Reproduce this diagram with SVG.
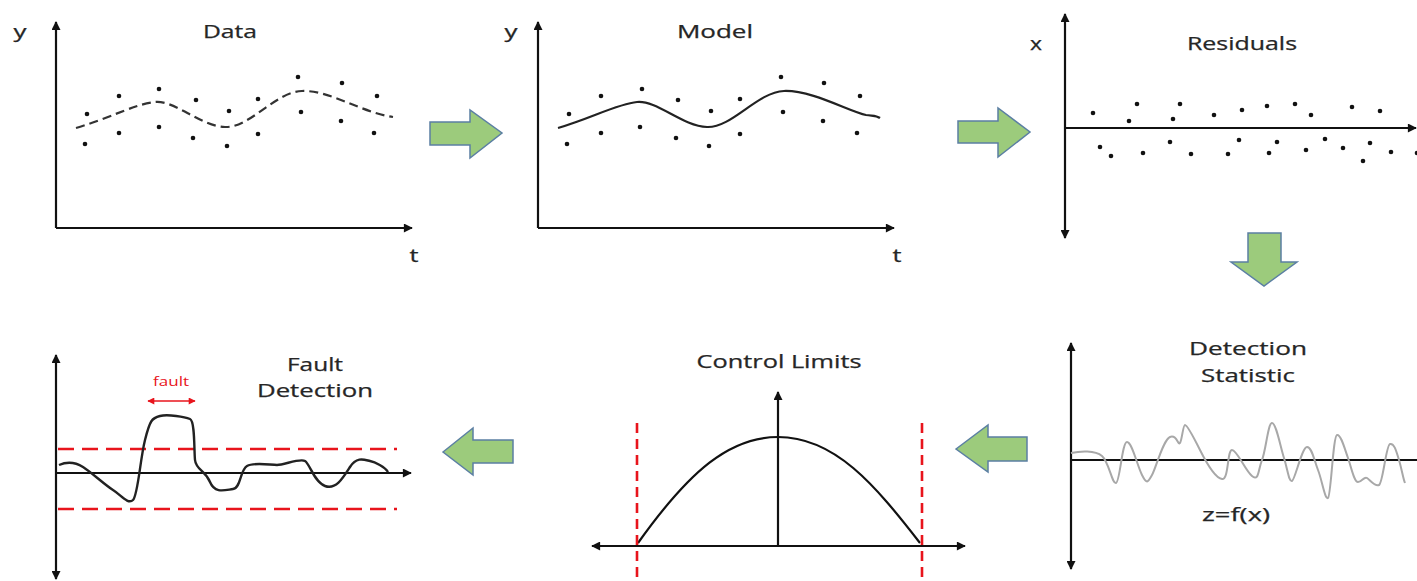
<svg xmlns="http://www.w3.org/2000/svg" width="1417" height="581" viewBox="0 0 1417 581">
<style>
.ttl{font-family:"Open Sans","Noto Sans",sans-serif;font-size:18px;fill:#262626;text-anchor:middle;stroke:#262626;stroke-width:0.25}
.lbl{font-family:"Open Sans","Noto Sans",sans-serif;font-size:18px;fill:#262626;text-anchor:middle;stroke:#262626;stroke-width:0.25}
.ax{stroke:#111;stroke-width:2.2;fill:none}
.dot{fill:#111}
.blk{fill:#9ccb7c;stroke:#5b7fa3;stroke-width:1.5;stroke-linejoin:miter}
.rdash{stroke:#e8141c;stroke-width:2.6;fill:none}
</style>
<defs>
<marker id="ah" viewBox="0 0 10 10" refX="9" refY="5" markerWidth="10" markerHeight="9" markerUnits="userSpaceOnUse" orient="auto-start-reverse">
<path d="M0,0 L10,5 L0,10 z" fill="#111"/>
</marker>
<marker id="rah" viewBox="0 0 10 10" refX="9" refY="5" markerWidth="8" markerHeight="7" markerUnits="userSpaceOnUse" orient="auto-start-reverse">
<path d="M0,0 L10,5 L0,10 z" fill="#e8141c"/>
</marker>
</defs>
<rect width="1417" height="581" fill="#fff"/>

<g id="panel-data">
<line class="ax" x1="56" y1="228" x2="56" y2="22" marker-end="url(#ah)"/>
<line class="ax" x1="56" y1="228" x2="412" y2="228" marker-end="url(#ah)"/>
<text class="lbl" x="20" y="38" textLength="13" lengthAdjust="spacingAndGlyphs">y</text>
<text class="lbl" x="414" y="262" textLength="9" lengthAdjust="spacingAndGlyphs">t</text>
<text class="ttl" x="230" y="38" textLength="54" lengthAdjust="spacingAndGlyphs">Data</text>
<path d="M76,128 C110,118 135,104 155,102 C175,100 200,126 225,127 C250,128 275,92 302,91 C330,90 360,112 393,117" stroke="#333" stroke-width="2.2" fill="none" stroke-dasharray="9 5"/>
<g class="dot">
<circle cx="87" cy="114" r="2.3"/><circle cx="85" cy="144" r="2.3"/>
<circle cx="119" cy="96" r="2.3"/><circle cx="119" cy="133" r="2.3"/>
<circle cx="159" cy="89" r="2.3"/><circle cx="159" cy="127" r="2.3"/>
<circle cx="196" cy="100" r="2.3"/><circle cx="193" cy="138" r="2.3"/>
<circle cx="229" cy="111" r="2.3"/><circle cx="227" cy="146" r="2.3"/>
<circle cx="258" cy="99" r="2.3"/><circle cx="258" cy="134" r="2.3"/>
<circle cx="298" cy="77" r="2.3"/><circle cx="301" cy="112" r="2.3"/>
<circle cx="342" cy="83" r="2.3"/><circle cx="341" cy="121" r="2.3"/>
<circle cx="377" cy="96" r="2.3"/><circle cx="374" cy="133" r="2.3"/>
</g>
</g>

<g id="panel-model">
<line class="ax" x1="538" y1="228" x2="538" y2="22" marker-end="url(#ah)"/>
<line class="ax" x1="538" y1="228" x2="894" y2="228" marker-end="url(#ah)"/>
<text class="lbl" x="511" y="38" textLength="13" lengthAdjust="spacingAndGlyphs">y</text>
<text class="lbl" x="897" y="262" textLength="9" lengthAdjust="spacingAndGlyphs">t</text>
<text class="ttl" x="715" y="38" textLength="76" lengthAdjust="spacingAndGlyphs">Model</text>
<path d="M558,128 C592,118 617,104 637,102 C657,100 682,126 707,127 C732,128 757,92 784,91 C812,90 850,112 866,115 C873,116 876,115 880,118" stroke="#222" stroke-width="2.2" fill="none"/>
<g class="dot">
<circle cx="569" cy="114" r="2.3"/><circle cx="567" cy="144" r="2.3"/>
<circle cx="601" cy="96" r="2.3"/><circle cx="601" cy="133" r="2.3"/>
<circle cx="642" cy="89" r="2.3"/><circle cx="640" cy="127" r="2.3"/>
<circle cx="678" cy="100" r="2.3"/><circle cx="676" cy="138" r="2.3"/>
<circle cx="711" cy="111" r="2.3"/><circle cx="709" cy="146" r="2.3"/>
<circle cx="740" cy="99" r="2.3"/><circle cx="740" cy="134" r="2.3"/>
<circle cx="781" cy="77" r="2.3"/><circle cx="783" cy="112" r="2.3"/>
<circle cx="824" cy="83" r="2.3"/><circle cx="823" cy="121" r="2.3"/>
<circle cx="860" cy="96" r="2.3"/><circle cx="857" cy="133" r="2.3"/>
</g>
</g>

<g id="panel-residuals">
<line class="ax" x1="1065" y1="14" x2="1065" y2="238" marker-start="url(#ah)" marker-end="url(#ah)"/>
<line class="ax" x1="1065" y1="128" x2="1416" y2="128" marker-end="url(#ah)"/>
<text class="lbl" x="1036" y="50" textLength="12" lengthAdjust="spacingAndGlyphs">x</text>
<text class="ttl" x="1242" y="50" textLength="110" lengthAdjust="spacingAndGlyphs">Residuals</text>
<g class="dot">
<circle cx="1093" cy="113" r="2.3"/><circle cx="1137" cy="104" r="2.3"/><circle cx="1129" cy="121" r="2.3"/>
<circle cx="1180" cy="104" r="2.3"/><circle cx="1173" cy="119" r="2.3"/><circle cx="1214" cy="115" r="2.3"/>
<circle cx="1242" cy="110" r="2.3"/><circle cx="1267" cy="106" r="2.3"/><circle cx="1295" cy="104" r="2.3"/>
<circle cx="1311" cy="115" r="2.3"/><circle cx="1352" cy="107" r="2.3"/><circle cx="1380" cy="111" r="2.3"/>
<circle cx="1100" cy="147" r="2.3"/><circle cx="1111" cy="156" r="2.3"/><circle cx="1143" cy="153" r="2.3"/>
<circle cx="1170" cy="142" r="2.3"/><circle cx="1191" cy="154" r="2.3"/><circle cx="1228" cy="154" r="2.3"/>
<circle cx="1239" cy="140" r="2.3"/><circle cx="1269" cy="153" r="2.3"/><circle cx="1277" cy="142" r="2.3"/>
<circle cx="1306" cy="150" r="2.3"/><circle cx="1325" cy="139" r="2.3"/><circle cx="1343" cy="148" r="2.3"/>
<circle cx="1363" cy="161" r="2.3"/><circle cx="1370" cy="143" r="2.3"/><circle cx="1391" cy="152" r="2.3"/>
<circle cx="1417" cy="153" r="2.3"/>
</g>
</g>

<g id="panel-detection-statistic">
<line class="ax" x1="1071" y1="343" x2="1071" y2="569" marker-start="url(#ah)" marker-end="url(#ah)"/>
<line class="ax" x1="1071" y1="460" x2="1417" y2="460"/>
<text class="ttl" x="1248" y="355" textLength="118" lengthAdjust="spacingAndGlyphs">Detection</text>
<text class="ttl" x="1248" y="382" textLength="94" lengthAdjust="spacingAndGlyphs">Statistic</text>
<text class="lbl" x="1236" y="521" textLength="68" lengthAdjust="spacingAndGlyphs">z=f(x)</text>
<path d="M1071,453 C1080,451 1095,450 1102,456 S1112,484 1116,483 S1122,442 1127,442 S1137,465 1142,475 S1148,482 1152,475 S1163,440 1170,437 S1178,446 1180,443 S1183,425 1185,425 S1195,440 1200,450 S1215,478 1222,479 S1227,450 1232,450 S1245,470 1252,476 S1258,470 1262,460 S1268,423 1272,423 S1280,445 1284,458 S1289,482 1292,481 S1302,447 1307,447 S1314,460 1318,470 S1325,500 1328,498 S1333,436 1337,435 S1345,450 1348,458 S1354,482 1358,482 S1364,476 1367,478 S1375,487 1379,485 S1386,445 1390,444 S1396,450 1399,460 S1403,478 1405,483" stroke="#a8a8a8" stroke-width="2" fill="none"/>
</g>

<g id="panel-control-limits">
<line class="ax" x1="592" y1="546" x2="965" y2="546" marker-start="url(#ah)" marker-end="url(#ah)"/>
<line class="ax" x1="778" y1="546" x2="778" y2="392" marker-end="url(#ah)"/>
<text class="ttl" x="779" y="368" textLength="165" lengthAdjust="spacingAndGlyphs">Control Limits</text>
<path d="M638,543 C690,470 730,437 778,437 C835,437 875,485 920,543" stroke="#111" stroke-width="2.2" fill="none"/>
<line class="rdash" x1="637" y1="423" x2="637" y2="581" stroke-dasharray="10 6"/>
<line class="rdash" x1="922" y1="423" x2="922" y2="581" stroke-dasharray="10 6"/>
</g>

<g id="panel-fault-detection">
<line class="ax" x1="56" y1="355" x2="56" y2="579" marker-start="url(#ah)" marker-end="url(#ah)"/>
<line class="ax" x1="56" y1="473" x2="411" y2="473" marker-end="url(#ah)"/>
<line class="rdash" x1="58" y1="449" x2="397" y2="449" stroke-dasharray="16 8"/>
<line class="rdash" x1="58" y1="509" x2="397" y2="509" stroke-dasharray="16 8"/>
<text class="ttl" x="315" y="371" textLength="56" lengthAdjust="spacingAndGlyphs">Fault</text>
<text class="ttl" x="315" y="397" textLength="116" lengthAdjust="spacingAndGlyphs">Detection</text>
<text x="171" y="386" font-family="Open Sans, Noto Sans, sans-serif" font-size="12" fill="#e8141c" text-anchor="middle" textLength="36" lengthAdjust="spacingAndGlyphs">fault</text>
<line x1="148" y1="401" x2="195" y2="401" stroke="#e8141c" stroke-width="1.6" marker-start="url(#rah)" marker-end="url(#rah)"/>
<path d="M59,465 C66,462 75,462 83,467 S105,485 113,490 S128,505 133,500 S140,460 145,440 S152,418 160,416 S185,417 190,419 S194,450 195,460 S205,470 210,482 S225,490 233,489 S240,470 247,466 S270,465 277,465 S300,458 305,461 S314,482 325,486 S343,478 350,467 S365,460 370,461 S385,467 388,472" stroke="#222" stroke-width="2.4" fill="none"/>
</g>

<g id="connectors">
<polygon class="blk" points="430,122 470,122 470,110 502,133 470,158 470,145 430,145"/>
<polygon class="blk" points="958,121 998,121 998,108 1030,132 998,157 998,143 958,143"/>
<polygon class="blk" points="1248,233 1281,233 1281,262 1297,262 1264,286 1231,262 1248,262"/>
<polygon class="blk" points="956,449 988,425 988,437 1027,437 1027,461 988,461 988,472"/>
<polygon class="blk" points="443,452 473,428 473,440 513,440 513,463 473,463 473,475"/>
</g>
</svg>
